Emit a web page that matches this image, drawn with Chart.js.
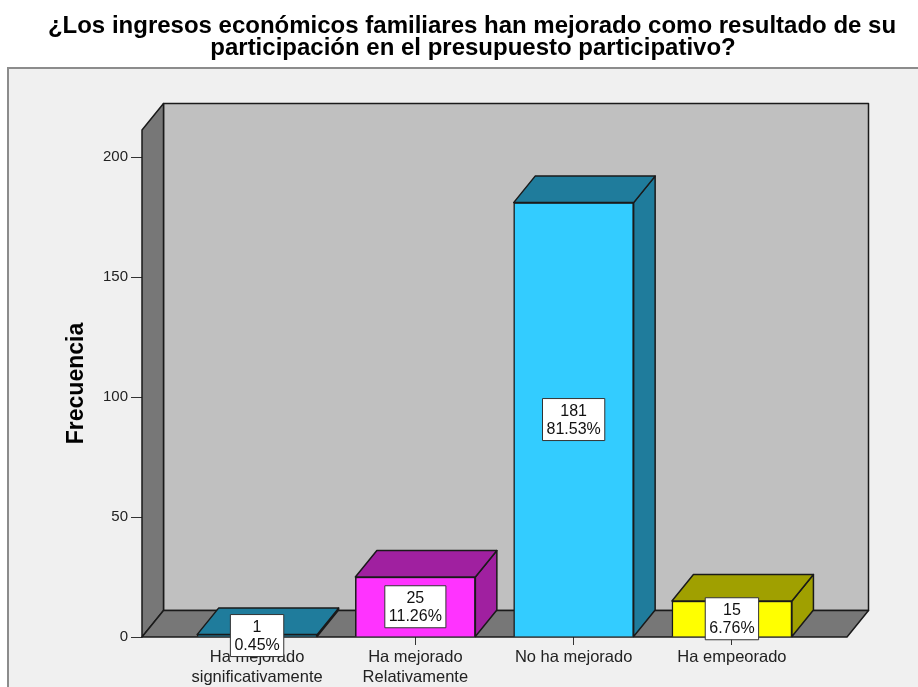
<!DOCTYPE html>
<html>
<head>
<meta charset="utf-8">
<script src="https://cdn.jsdelivr.net/npm/chart.js@4.4.1/dist/chart.umd.min.js"></script>
<style>
  body { margin: 0; background: #fff; }
  canvas { display: block; }
</style>
</head>
<body>
<canvas id="barChart" width="918" height="687"></canvas>
<script>
const titleLines = [
  '¿Los ingresos económicos familiares han mejorado como resultado de su',
  'participación en el presupuesto participativo?'
];
const categories = [
  ['Ha mejorado', 'significativamente'],
  ['Ha mejorado', 'Relativamente'],
  'No ha mejorado',
  'Ha empeorado'
];
const frequencies = [1, 25, 181, 15];
const percents = [0.45, 11.26, 81.53, 6.76];
const yTicks = [0, 50, 100, 150, 200];

const frontColors = ['#1f7c9c', '#ff33ff', '#33ccff', '#ffff00'];
const sideColors = ['#1f7c9c', '#a020a0', '#1f7c9c', '#a0a000'];

const FONT = 'Arial, "Liberation Sans", sans-serif';
const DX = 21.5, DY = 26.5; // depth of the 3d boxes
const EDGE = '#1a1a1a';

function poly(ctx, pts, fill) {
  ctx.beginPath();
  ctx.moveTo(pts[0][0], pts[0][1]);
  for (let i = 1; i < pts.length; i++) ctx.lineTo(pts[i][0], pts[i][1]);
  ctx.closePath();
  ctx.fillStyle = fill;
  ctx.fill();
  ctx.stroke();
}

const box3d = {
  id: 'box3d',
  beforeDraw(chart) {
    const ctx = chart.ctx;
    ctx.save();
    // outer frame
    ctx.fillStyle = '#f0f0f0';
    ctx.fillRect(8, 68, chart.width, chart.height);
    ctx.strokeStyle = '#8c8c8c';
    ctx.lineWidth = 2;
    ctx.strokeRect(8, 68, chart.width, chart.height);
    // title
    ctx.fillStyle = '#000';
    ctx.font = 'bold 24px ' + FONT;
    ctx.textAlign = 'center';
    ctx.textBaseline = 'alphabetic';
    ctx.fillText(titleLines[0], 472, 33);
    ctx.fillText(titleLines[1], 473, 55);
    ctx.restore();
  },
  beforeDatasetsDraw(chart) {
    const ctx = chart.ctx;
    const { left, right, top, bottom } = chart.chartArea;
    ctx.save();
    ctx.strokeStyle = EDGE;
    ctx.lineWidth = 1.5;
    ctx.lineJoin = 'round';
    // back wall
    poly(ctx, [[left + DX, top - DY], [right + DX, top - DY], [right + DX, bottom - DY], [left + DX, bottom - DY]], '#c0c0c0');
    // side wall
    poly(ctx, [[left, top], [left + DX, top - DY], [left + DX, bottom - DY], [left, bottom]], '#777777');
    // floor
    poly(ctx, [[left, bottom], [left + DX, bottom - DY], [right + DX, bottom - DY], [right, bottom]], '#777777');
    ctx.restore();
  },
  afterDatasetsDraw(chart) {
    const ctx = chart.ctx;
    const bars = chart.getDatasetMeta(0).data;
    ctx.save();
    ctx.strokeStyle = EDGE;
    ctx.lineWidth = 1.5;
    ctx.lineJoin = 'round';
    bars.forEach((bar, i) => {
      const x0 = bar.x - bar.width / 2, x1 = bar.x + bar.width / 2;
      const y = bar.y, base = bar.base;
      poly(ctx, [[x1, y], [x1 + DX, y - DY], [x1 + DX, base - DY], [x1, base]], sideColors[i]);
      poly(ctx, [[x0, y], [x0 + DX, y - DY], [x1 + DX, y - DY], [x1, y]], sideColors[i]);
    });
    // value boxes
    ctx.font = '16px ' + FONT;
    ctx.textAlign = 'center';
    ctx.textBaseline = 'middle';
    ctx.lineWidth = 1;
    bars.forEach((bar, i) => {
      const lines = [String(frequencies[i]), percents[i].toFixed(2) + '%'];
      const w = Math.max(...lines.map(t => ctx.measureText(t).width)) + 8;
      const lh = 17.5;
      const h = lh * 2 + 7;
      const cx = bar.x, cy = (bar.y + bar.base) / 2;
      ctx.fillStyle = '#fff';
      ctx.fillRect(cx - w / 2, cy - h / 2, w, h);
      ctx.strokeStyle = '#333';
      ctx.strokeRect(cx - w / 2, cy - h / 2, w, h);
      ctx.fillStyle = '#111';
      ctx.fillText(lines[0], cx, cy - lh / 2 + 1);
      ctx.fillText(lines[1], cx, cy + lh / 2 + 1);
    });
    ctx.restore();
  }
};

new Chart(document.getElementById('barChart'), {
  type: 'bar',
  data: {
    datasets: [{
      data: frequencies.map((v, i) => ({ x: i, y: v })),
      backgroundColor: frontColors,
      borderColor: EDGE,
      borderWidth: 1.5,
      barThickness: 120
    }]
  },
  options: {
    responsive: false,
    animation: false,
    layout: { padding: { left: 0, top: 130, right: 71, bottom: 0 } },
    plugins: { legend: { display: false }, tooltip: { enabled: false } },
    scales: {
      x: {
        type: 'linear',
        min: -0.727,
        max: 3.727,
        offset: false,
        z: 1,
        afterBuildTicks: s => { s.ticks = categories.map((c, i) => ({ value: i })); },
        afterFit: s => { s.height = 50; },
        ticks: {
          callback: v => categories[v],
          font: { family: FONT, size: 16.5 },
          color: '#222',
          padding: 3,
          maxRotation: 0,
          autoSkip: false
        },
        grid: { drawOnChartArea: false, offset: false, tickLength: 8, color: '#333' },
        border: { display: false }
      },
      y: {
        min: 0,
        max: 211.25,
        afterBuildTicks: s => { s.ticks = yTicks.map(v => ({ value: v })); },
        afterFit: s => { s.width = 142; },
        ticks: { font: { family: FONT, size: 15 }, color: '#222', padding: 3 },
        grid: { drawOnChartArea: false, tickLength: 11, color: '#333' },
        border: { display: false },
        title: {
          display: true,
          text: 'Frecuencia',
          color: '#000',
          font: { family: FONT, size: 23, weight: 'bold' },
          padding: { top: 63, bottom: 0 }
        }
      }
    }
  },
  plugins: [box3d]
});
</script>
</body>
</html>
